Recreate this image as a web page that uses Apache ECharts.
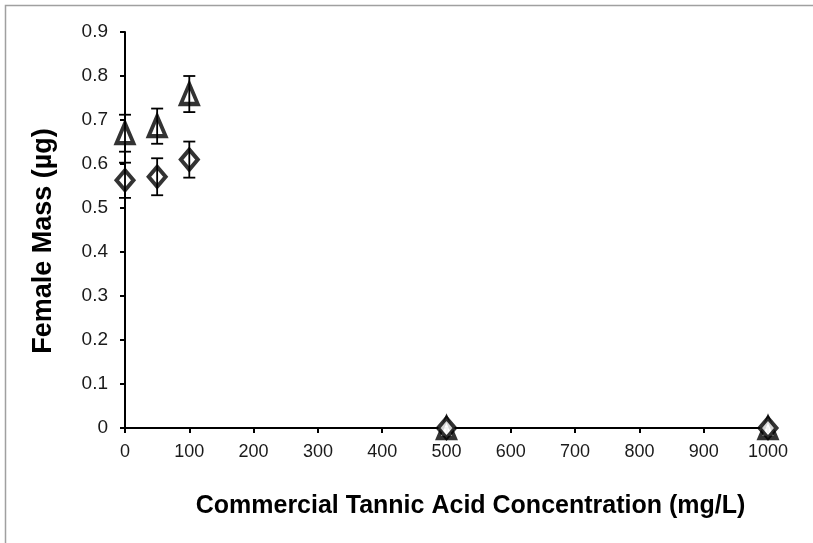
<!DOCTYPE html>
<html><head><meta charset="utf-8">
<script src="https://cdn.jsdelivr.net/npm/echarts@6/dist/echarts.min.js"></script>
<style>html,body{margin:0;padding:0;background:#fff}#c{width:813px;height:543px}</style>
</head><body><div id="c"></div>
<script>
const concentrations = [0, 50, 100, 500, 1000];
const triangleMass = [0.670, 0.686, 0.759, 0, 0];
const triangleErr = [0.042, 0.040, 0.041, 0, 0];
const diamondMass = [0.563, 0.571, 0.610, 0, 0];
const diamondErr = [0.040, 0.042, 0.041, 0, 0];
const xTicks = [0,100,200,300,400,500,600,700,800,900,1000];

const FONT = '"Liberation Sans", Arial, sans-serif';

function errData(x, y, e){ return x.map((v,i)=>[v, y[i]-e[i], y[i]+e[i]]); }
function errSeries(data){
  return {
    type:'custom', z:5, silent:true,
    data,
    renderItem(params, api){
      const x = api.value(0);
      const lo = api.coord([x, api.value(1)]);
      const hi = api.coord([x, api.value(2)]);
      const w = 6;
      const st = {stroke:'#000', lineWidth:1.8};
      if (Math.abs(lo[1]-hi[1]) < 0.5) return {type:'group', children:[]};
      return {type:'group', children:[
        {type:'line', shape:{x1:lo[0],y1:lo[1],x2:hi[0],y2:hi[1]}, style:st},
        {type:'line', shape:{x1:lo[0]-w,y1:lo[1],x2:lo[0]+w,y2:lo[1]}, style:st},
        {type:'line', shape:{x1:hi[0]-w,y1:hi[1],x2:hi[0]+w,y2:hi[1]}, style:st}
      ]};
    }
  };
}

const chart = echarts.init(document.getElementById('c'));
chart.setOption({
  animation:false,
  backgroundColor:'#fff',
  graphic:[{type:'rect', shape:{x:5.5,y:5.5,width:820,height:560}, style:{fill:'none', stroke:'#a0a0a0', lineWidth:1.5}, silent:true}],
  grid:{left:125, right:45, top:32, bottom:115},
  xAxis:{
    type:'value', min:0, max:1000, interval:100,
    name:'Commercial Tannic Acid Concentration (mg/L)',
    nameLocation:'middle', nameGap:66,
    nameTextStyle:{fontFamily:FONT, fontWeight:'bold', fontSize:25, color:'#000', padding:[0,0,0,48]},
    axisLine:{onZero:false, lineStyle:{color:'#000', width:2}},
    axisTick:{show:true, length:5, inside:false, lineStyle:{color:'#000', width:2}},
    axisLabel:{fontFamily:FONT, fontSize:18, color:'#1a1a1a', margin:15,
      formatter:v=>xTicks.includes(v)?String(v):''},
    splitLine:{show:false}
  },
  yAxis:{
    type:'value', min:0, max:0.9, interval:0.1,
    name:'Female Mass (µg)',
    nameLocation:'middle', nameGap:68,
    nameTextStyle:{fontFamily:FONT, fontWeight:'bold', fontSize:27, color:'#000', padding:[0,22,0,0]},
    axisLine:{show:true, lineStyle:{color:'#000', width:2}},
    axisTick:{show:true, length:5, inside:false, lineStyle:{color:'#000', width:2}},
    axisLabel:{fontFamily:FONT, fontSize:19, color:'#1a1a1a', margin:17,
      formatter:v=>v===0?'0':v.toFixed(1)},
    splitLine:{show:false}
  },
  series:[
    {type:'scatter', name:'triangle', symbol:'triangle', symbolSize:[17,20], clip:false, z:3,
     data:concentrations.map((c,i)=>[c, triangleMass[i]]),
     itemStyle:{color:'#fff', borderColor:'#000', borderWidth:4}},
    {type:'scatter', name:'diamond', symbol:'diamond', symbolSize:[17,20], clip:false, z:4,
     data:concentrations.map((c,i)=>[c, diamondMass[i]]),
     itemStyle:{color:'#fff', borderColor:'#000', borderWidth:4}},
    errSeries(errData(concentrations, triangleMass, triangleErr)),
    errSeries(errData(concentrations, diamondMass, diamondErr))
  ]
});
</script></body></html>
